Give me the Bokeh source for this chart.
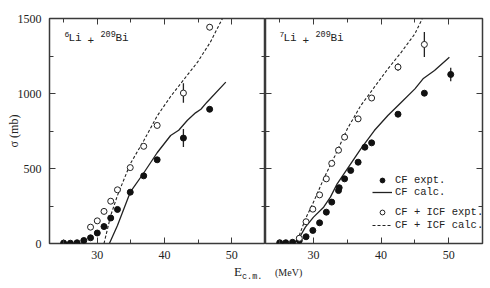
import math
from bokeh.plotting import figure
from bokeh.models import Range1d, FixedTicker, LinearAxis, Label, Legend, LegendItem
from bokeh.layouts import row, column
from bokeh.embed import file_html
from bokeh.resources import INLINE

# ---------------- data ----------------
x_ticks = [30, 40, 50]
x_minor = [25, 35, 45]
y_ticks = [0, 500, 1000, 1500]
y_minor = [250, 750, 1250]
x_lim = [22.9, 55.0]
y_lim = [0, 1500]

# 6Li + 209Bi
li6_cf_e = [25.0, 26.0, 27.0, 28.0, 29.0, 30.0, 31.0, 32.0, 33.0, 34.9, 36.9, 38.9, 42.8, 46.7]
li6_cf_s = [3, 2, 5, 20, 38, 70, 113, 170, 227, 342, 451, 558, 703, 895]
li6_cf_err = [0, 0, 0, 0, 0, 0, 0, 0, 0, 0, 0, 0, 60, 0]
li6_tot_e = [29.0, 30.0, 31.0, 32.0, 33.0, 34.9, 36.9, 38.9, 42.8, 46.7]
li6_tot_s = [109, 151, 214, 282, 358, 506, 648, 787, 1003, 1442]
li6_tot_err = [0, 0, 0, 0, 0, 0, 0, 0, 65, 20]
li6_cfcalc_e = [31.8, 33.0, 34.9, 36.9, 38.9, 40.9, 42.1, 43.4, 44.6, 45.4, 46.3, 49.1]
li6_cfcalc_s = [0, 120, 342, 470, 605, 720, 755, 822, 871, 895, 942, 1076]
li6_totcalc_e = [31.0, 32.0, 33.0, 34.9, 36.9, 38.9, 40.9, 42.9, 44.9, 46.8, 48.6]
li6_totcalc_s = [0, 187, 320, 531, 685, 850, 980, 1095, 1209, 1342, 1500]

# 7Li + 209Bi
li7_cf_e = [25.0, 25.9, 26.9, 27.9, 28.9, 29.9, 30.9, 31.9, 32.7, 33.7, 33.8, 34.6, 35.5, 36.6, 37.6, 38.6, 42.5, 46.4, 50.3]
li7_cf_s = [5, 5, 8, 20, 45, 87, 138, 209, 276, 353, 372, 431, 487, 542, 642, 671, 862, 1002, 1127]
li7_cf_err = [0, 0, 0, 0, 0, 0, 0, 0, 0, 0, 0, 0, 0, 0, 0, 0, 0, 0, 45]
li7_tot_e = [27.9, 28.9, 29.9, 30.9, 31.9, 32.7, 33.7, 34.6, 36.6, 38.6, 42.5, 46.4]
li7_tot_s = [35, 145, 229, 324, 431, 534, 622, 709, 831, 970, 1176, 1327]
li7_tot_err = [0, 0, 0, 0, 0, 0, 0, 0, 0, 0, 25, 83]
li7_cfcalc_e = [27.0, 27.8, 28.8, 30.0, 31.5, 32.5, 33.5, 35.0, 37.0, 39.0, 41.0, 43.0, 45.0, 46.2, 47.9, 50.1]
li7_cfcalc_s = [0, 30, 109, 176, 242, 309, 398, 498, 631, 753, 853, 942, 1031, 1098, 1153, 1242]
li7_totcalc_e = [27.0, 27.8, 28.8, 30.0, 31.5, 33.2, 35.0, 37.0, 39.0, 41.0, 43.0, 45.0, 46.1]
li7_totcalc_s = [0, 42, 164, 276, 431, 587, 764, 920, 1042, 1164, 1276, 1398, 1500]

legend_labels = ["CF expt.", "CF calc.", "CF + ICF expt.", "CF + ICF calc."]
x_label = ["E", "c.m.", "(MeV)"]
y_label = "σ (mb)"

INK = "#222222"
FRAME = "#3a3a3a"


def add_axis(p, side, ticks, minor, labelled):
    ax = LinearAxis(ticker=FixedTicker(ticks=ticks, minor_ticks=minor))
    ax.axis_line_color = None
    ax.major_tick_in = 6
    ax.major_tick_out = 0
    ax.minor_tick_in = 4
    ax.minor_tick_out = 0
    ax.major_tick_line_color = FRAME
    ax.minor_tick_line_color = FRAME
    ax.major_tick_line_width = 1
    ax.minor_tick_line_width = 1
    if labelled:
        ax.major_label_text_font = "Liberation Serif"
        ax.major_label_text_font_size = "12px"
        ax.major_label_text_color = INK
        ax.major_label_standoff = 7 if side == "below" else 8
    else:
        ax.major_label_overrides = {t: "" for t in ticks}
        ax.major_label_text_font_size = "0px"
        ax.major_label_standoff = 0
    p.add_layout(ax, side)
    return ax


def make_panel(width, mbl, mbr, left_labels):
    p = figure(width=width, height=264,
               x_range=Range1d(x_lim[0], x_lim[1]), y_range=Range1d(y_lim[0], y_lim[1]),
               output_backend="svg", toolbar_location=None,
               x_axis_location=None, y_axis_location=None,
               min_border_left=mbl, min_border_right=mbr,
               min_border_top=18, min_border_bottom=21)
    p.xgrid.grid_line_color = None
    p.ygrid.grid_line_color = None
    p.outline_line_color = FRAME
    p.outline_line_width = 1.5
    p.background_fill_color = "white"
    p.border_fill_color = "white"
    add_axis(p, "below", x_ticks, x_minor, True)
    add_axis(p, "above", x_ticks, x_minor, False)
    yax = add_axis(p, "left", y_ticks, y_minor, left_labels)
    add_axis(p, "right", y_ticks, y_minor, False)
    return p, yax


def lab(p, text, x, y, size, font="Liberation Mono", **kw):
    p.add_layout(Label(x=x, y=y, x_units="screen", y_units="screen", text=text,
                       text_font=font, text_font_size=size, text_color=INK, **kw))


def draw(p, cf_e, cf_s, cf_err, tot_e, tot_s, tot_err, cc_e, cc_s, tc_e, tc_s):
    r_cc = p.line(cc_e, cc_s, line_color=INK, line_width=1.3)
    r_tc = p.line(tc_e, tc_s, line_color=INK, line_width=1.1, line_dash="3 2")
    for e, s, err in ((cf_e, cf_s, cf_err), (tot_e, tot_s, tot_err)):
        xs = [a for a, d in zip(e, err) if d > 0]
        lo = [b - d for b, d in zip(s, err) if d > 0]
        hi = [b + d for b, d in zip(s, err) if d > 0]
        p.segment(x0=xs, y0=lo, x1=xs, y1=hi, line_color=INK, line_width=1.3)
    r_cf = p.scatter(cf_e, cf_s, marker="circle", size=6, fill_color="#111111", line_color="#111111")
    r_tot = p.scatter(tot_e, tot_s, marker="circle", size=6, fill_color="white", line_color=INK, line_width=1)
    return r_cf, r_cc, r_tot, r_tc


def reaction_label(p, a, x0):
    lab(p, a, x0, 207, "8px")
    lab(p, "Li", x0 + 4, 200, "11px")
    lab(p, "+", x0 + 23, 200, "11px")
    lab(p, "209", x0 + 36, 207, "8.5px")
    lab(p, "Bi", x0 + 51, 200, "11px")


# ---------------- left panel ----------------
p1, yax1 = make_panel(265, 49, 0, True)
draw(p1, li6_cf_e, li6_cf_s, li6_cf_err, li6_tot_e, li6_tot_s, li6_tot_err,
     li6_cfcalc_e, li6_cfcalc_s, li6_totcalc_e, li6_totcalc_s)
reaction_label(p1, "6", 15)
yax1.axis_label = y_label
yax1.axis_label_text_font = "Liberation Serif"
yax1.axis_label_text_font_size = "12px"
yax1.axis_label_text_font_style = "normal"
yax1.axis_label_text_color = INK
yax1.axis_label_standoff = -6

# ---------------- right panel ----------------
p2, _ = make_panel(225, 0, 8, False)
r_cf, r_cc, r_tot, r_tc = draw(p2, li7_cf_e, li7_cf_s, li7_cf_err, li7_tot_e, li7_tot_s, li7_tot_err,
                               li7_cfcalc_e, li7_cfcalc_s, li7_totcalc_e, li7_totcalc_s)
reaction_label(p2, "7", 14)


def make_legend(items, loc, spacing):
    lg = Legend(items=items, location=loc, padding=0, margin=0, spacing=spacing,
                glyph_width=20, glyph_height=12, label_height=12, label_standoff=3,
                label_text_font="Liberation Mono", label_text_font_size="10.5px",
                label_text_color=INK, border_line_color=None, background_fill_alpha=0)
    p2.add_layout(lg)


make_legend([LegendItem(label=legend_labels[0], renderers=[r_cf]),
             LegendItem(label=legend_labels[1], renderers=[r_cc])], (107, 45), 0)
make_legend([LegendItem(label=legend_labels[2], renderers=[r_tot]),
             LegendItem(label=legend_labels[3], renderers=[r_tc])], (107, 12), 1)

# ---------------- x-axis title strip ----------------
strip = figure(width=490, height=24, output_backend="svg", toolbar_location=None,
               x_axis_location=None, y_axis_location=None,
               min_border_left=0, min_border_right=0, min_border_top=0, min_border_bottom=0)
strip.xgrid.grid_line_color = None
strip.ygrid.grid_line_color = None
strip.outline_line_color = None
lab(strip, x_label[0], 233.5, 9.3, "13px", font="Liberation Serif")
lab(strip, x_label[1], 241.5, 7, "8.5px")
lab(strip, x_label[2], 274.5, 10.3, "10px", font="Liberation Serif")

layout = column(row(p1, p2, spacing=0), strip, spacing=0)
open("out.html", "w").write(file_html(layout, INLINE))
